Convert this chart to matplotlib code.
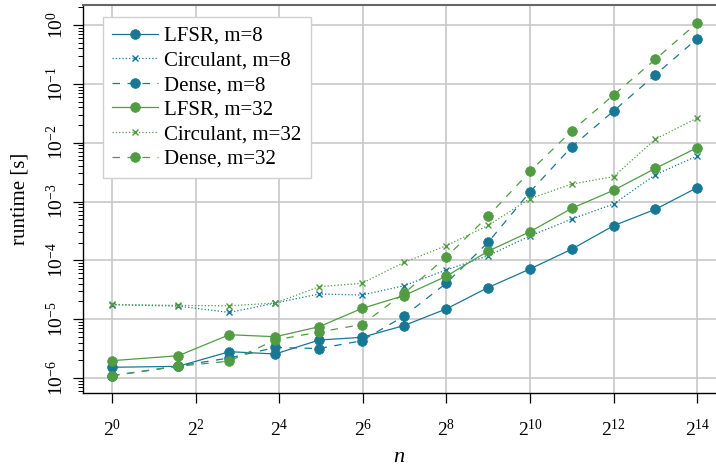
import numpy as np
import matplotlib
matplotlib.use("Agg")
import matplotlib.pyplot as plt
from matplotlib.ticker import LogLocator, FixedLocator, NullFormatter

plt.rcParams["font.family"] = ["Liberation Serif", "DejaVu Serif"]
plt.rcParams["mathtext.fontset"] = "custom"
plt.rcParams["mathtext.rm"] = "Liberation Serif"
plt.rcParams["mathtext.it"] = "Liberation Serif:italic"

# problem sizes n = 2^k - 1
n = [1, 3, 7, 15, 31, 63, 127, 255, 511, 1023, 2047, 4095, 8191, 16383]

lfsr_m8 = [1.52e-6, 1.58e-6, 2.80e-6, 2.56e-6, 4.42e-6, 4.91e-6, 7.80e-6,
           1.49e-5, 3.45e-5, 7.12e-5, 1.55e-4, 3.88e-4, 7.37e-4, 1.72e-3]
circ_m8 = [1.76e-5, 1.67e-5, 1.30e-5, 1.88e-5, 2.68e-5, 2.57e-5, 3.70e-5,
           6.85e-5, 1.20e-4, 2.59e-4, 5.04e-4, 9.06e-4, 2.85e-3, 5.93e-3]
dense_m8 = [1.10e-6, 1.60e-6, 2.19e-6, 3.30e-6, 3.17e-6, 4.30e-6, 1.13e-5,
            4.07e-5, 2.02e-4, 1.45e-3, 8.54e-3, 3.45e-2, 1.43e-1, 5.85e-1]
lfsr_m32 = [1.97e-6, 2.39e-6, 5.44e-6, 5.03e-6, 7.44e-6, 1.52e-5, 2.52e-5,
            5.35e-5, 1.43e-4, 3.06e-4, 7.66e-4, 1.55e-3, 3.66e-3, 8.21e-3]
circ_m32 = [1.78e-5, 1.71e-5, 1.69e-5, 1.88e-5, 3.56e-5, 4.07e-5, 9.25e-5,
            1.77e-4, 3.91e-4, 1.12e-3, 1.98e-3, 2.64e-3, 1.15e-2, 2.62e-2]
dense_m32 = [1.09e-6, 1.58e-6, 1.94e-6, 4.42e-6, 6.05e-6, 8.11e-6, 2.75e-5,
             1.13e-4, 5.62e-4, 3.24e-3, 1.59e-2, 6.46e-2, 2.61e-1, 1.09e0]

x_ticks = [2 ** k for k in range(0, 15, 2)]
x_tick_labels = [rf"$2^{{{k}}}$" for k in range(0, 15, 2)]
y_ticks = [10.0 ** k for k in range(-6, 1)]
y_tick_labels = [rf"$10^{{{k}}}$" for k in range(-6, 1)]

blue = "#177896"
green = "#519c42"

fig = plt.figure(figsize=(7.16, 4.67), dpi=100)
ax = fig.add_axes([83 / 716, 1 - 393 / 467, 1 - 83 / 716, (393 - 5) / 467])

series = [
    ("LFSR, m=8", lfsr_m8, blue, "-", "o"),
    ("Circulant, m=8", circ_m8, blue, ":", "x"),
    ("Dense, m=8", dense_m8, blue, (0, (6, 6)), "o"),
    ("LFSR, m=32", lfsr_m32, green, "-", "o"),
    ("Circulant, m=32", circ_m32, green, ":", "x"),
    ("Dense, m=32", dense_m32, green, (0, (6, 6)), "o"),
]
for label, vals, col, ls, mk in series:
    ms = 7 if mk == "o" else 4.8
    ax.plot(n, vals, linestyle=ls, color=col, linewidth=0.9, marker=mk,
            markersize=ms, markeredgewidth=1.0 if mk == "x" else 0.5,
            label=label, zorder=3)

ax.set_xscale("log", base=2)
ax.set_yscale("log")
ax.set_xlim(2 ** -0.694, 2 ** 14.45)
ax.set_ylim(10 ** -6.255, 10 ** 0.34)

ax.set_xticks(x_ticks)
ax.set_xticklabels(x_tick_labels)
ax.xaxis.set_minor_locator(FixedLocator([]))
ax.set_yticks(y_ticks)
ax.set_yticklabels(y_tick_labels, rotation=90, va="center")
ax.yaxis.set_minor_locator(LogLocator(base=10, subs=np.arange(2, 10)))
ax.yaxis.set_minor_formatter(NullFormatter())

ax.tick_params(axis="both", which="major", direction="out", length=7.5,
               width=0.9, labelsize=14, color="black")
ax.tick_params(axis="y", which="minor", direction="out", length=3.5, width=0.7)
ax.tick_params(axis="x", pad=11)
ax.tick_params(axis="y", pad=4)

ax.grid(True, which="major", color="#c8c8c8", linewidth=1.2, zorder=0)
ax.set_axisbelow(True)

ax.spines["right"].set_visible(False)
ax.spines["top"].set_color("#666666")
ax.spines["top"].set_linewidth(1.5)
ax.spines["left"].set_linewidth(1.0)
ax.spines["bottom"].set_linewidth(1.0)

ax.set_xlabel(r"$n$", fontsize=16, labelpad=6)
ax.set_ylabel("runtime [s]", fontsize=15, labelpad=12)

leg = ax.legend(loc="upper left", bbox_to_anchor=(20 / 633, 1 - 12 / 388),
                borderaxespad=0.0, fontsize=15,
                handlelength=2.2, handletextpad=0.3, labelspacing=0.24,
                borderpad=0.45, fancybox=False, framealpha=1.0)
leg.get_frame().set_edgecolor("#d0d0d0")
leg.get_frame().set_linewidth(1.0)

fig.savefig("out.png", dpi=100)
